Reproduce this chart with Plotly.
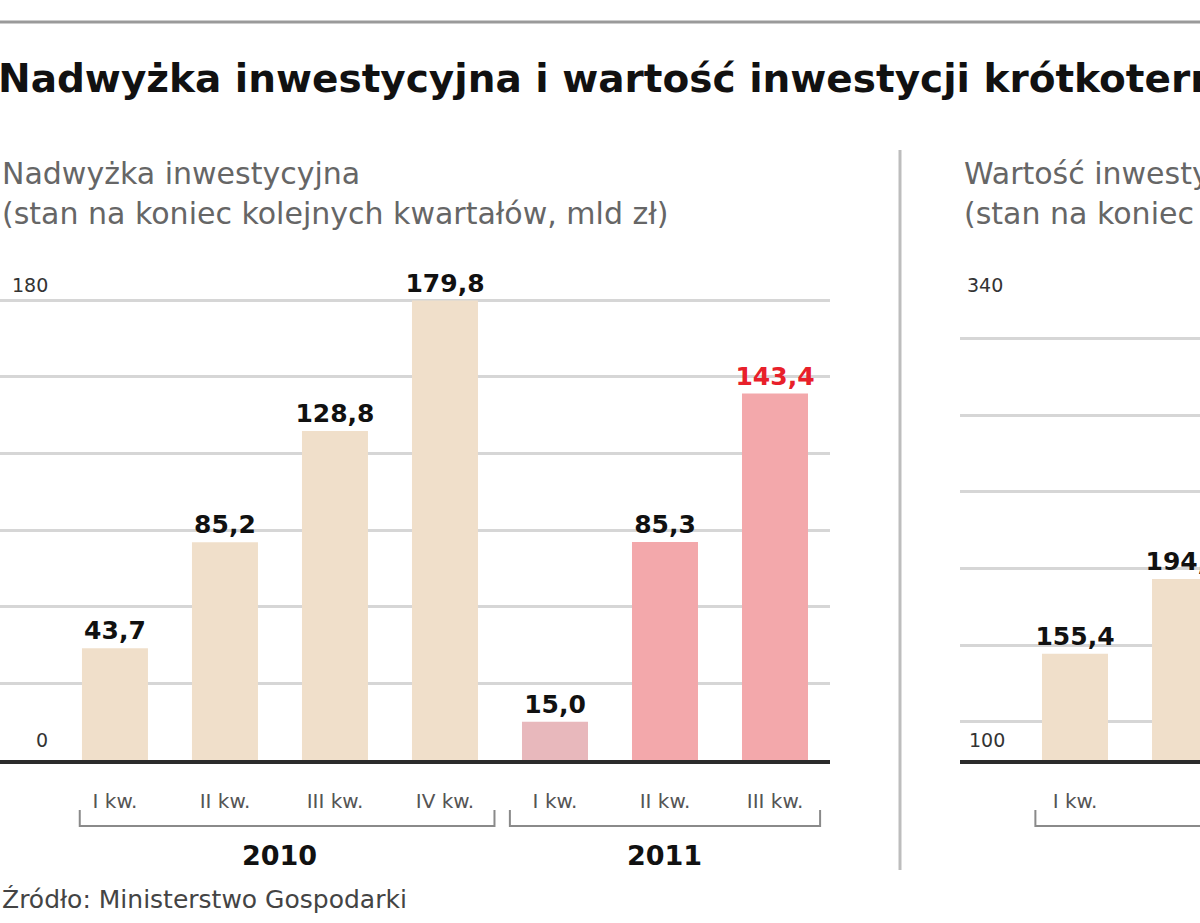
import plotly.graph_objects as go

# nadwyzka inwestycyjna, mld zl (2010 I-IV kw., 2011 I-III kw.)
quarters = ["I kw.", "II kw.", "III kw.", "IV kw.", "I kw.", "II kw.", "III kw."]
surplus = [43.7, 85.2, 128.8, 179.8, 15.0, 85.3, 143.4]
surplus_colors = ["#f0dfca", "#f0dfca", "#f0dfca", "#f0dfca", "#e8b8bc", "#f3a8ab", "#f3a8ab"]
surplus_text_colors = ["#111", "#111", "#111", "#111", "#111", "#111", "#e8202a"]

# wartosc inwestycji krotkoterminowych - only first two quarters visible
inv_quarters = ["I kw.", "II kw."]
investments = [155.4, 194.4]

years = ["2010", "2011"]

W, H = 1200, 923
FONT = "DejaVu Sans"


def py(p):
    # pixel row -> paper y
    return 1 - p / H


fig = go.Figure()

fig.add_trace(go.Bar(
    x=list(range(len(surplus))), y=surplus,
    marker=dict(color=surplus_colors, line=dict(width=0)),
    width=0.6,
    texttemplate="%{y:.1f}", textposition="outside",
    textfont=dict(size=25, color=surplus_text_colors, family=FONT, weight="bold"),
    constraintext="none", cliponaxis=False,
    xaxis="x", yaxis="y", showlegend=False, hoverinfo="skip"
))

fig.add_trace(go.Bar(
    x=list(range(len(investments))), y=investments,
    marker=dict(color="#f0dfca", line=dict(width=0)),
    width=0.6,
    texttemplate="%{y:.1f}", textposition="outside",
    textfont=dict(size=25, color="#111", family=FONT, weight="bold"),
    constraintext="none", cliponaxis=False,
    xaxis="x2", yaxis="y2", showlegend=False, hoverinfo="skip"
))

# 2.556 px per unit on both panels, top gridline just inside the plot area
ydom = [py(760), py(297)]
axis_common = dict(showline=True, linecolor="#2b2b2b", linewidth=4, ticks="",
                   tickfont=dict(size=20, color="#555", family=FONT),
                   ticklabelstandoff=20, showgrid=False, zeroline=False)

fig.update_layout(
    width=W, height=H,
    margin=dict(l=0, r=0, t=0, b=0),
    paper_bgcolor="white", plot_bgcolor="white",
    separators=", ",
    font=dict(family=FONT),
    xaxis=dict(domain=[0, 830 / W], range=[-1.045, 6.5],
               tickvals=list(range(len(quarters))), ticktext=quarters, **axis_common),
    yaxis=dict(domain=ydom, range=[0, 181.2], dtick=30, showticklabels=False,
               showgrid=True, gridcolor="#d6d6d6", gridwidth=3, zeroline=False),
    xaxis2=dict(domain=[960 / W, 1], range=[-1.045, 1.136], anchor="y2",
                tickvals=list(range(len(inv_quarters))), ticktext=inv_quarters, **axis_common),
    yaxis2=dict(domain=ydom, range=[100, 341.6], dtick=40, showticklabels=False,
                showgrid=True, gridcolor="#d6d6d6", gridwidth=3, zeroline=False, anchor="x2"),
)

shapes = [
    dict(type="line", xref="paper", yref="paper", x0=0, x1=1, y0=py(22), y1=py(22),
         line=dict(color="#9a9a9a", width=3)),
    dict(type="line", xref="paper", yref="paper", x0=900 / W, x1=900 / W, y0=py(150), y1=py(870),
         line=dict(color="#bdbdbd", width=3)),
]
# year brackets under category labels
brackets = [("x", -0.32, 3.45), ("x", 3.59, 6.41), ("x2", -0.36, 2.5)]
for xr, a, b in brackets:
    shapes.append(dict(type="path", xref=xr, yref="paper",
                       path=f"M {a},{py(810)} L {a},{py(826)} L {b},{py(826)} L {b},{py(810)}",
                       line=dict(color="#8a8a8a", width=2)))
fig.update_layout(shapes=shapes)

ann = []
ann.append(dict(text="<b>Nadwyżka inwestycyjna i wartość inwestycji krótkoterminowych</b>",
                xref="paper", yref="paper", x=-4 / W, y=py(78), xanchor="left", yanchor="middle",
                showarrow=False, font=dict(size=39, color="#111")))
for x0, line1 in [(0, "Nadwyżka inwestycyjna"), (962 / W, "Wartość inwestycji krótkoterminowych")]:
    ann.append(dict(text=line1, xref="paper", yref="paper", x=x0, y=py(173),
                    xanchor="left", yanchor="middle", showarrow=False,
                    font=dict(size=30, color="#666")))
    ann.append(dict(text="(stan na koniec kolejnych kwartałów, mld zł)", xref="paper", yref="paper",
                    x=x0, y=py(214), xanchor="left", yanchor="middle", showarrow=False,
                    font=dict(size=30, color="#666")))
# y axis end labels
ann += [
    dict(text="180", xref="x domain", yref="y", x=0.012, y=180, xanchor="left", yanchor="bottom",
         yshift=2, showarrow=False, font=dict(size=19, color="#333")),
    dict(text="0", xref="x domain", yref="y", x=0.05, y=0, xanchor="center", yanchor="bottom",
         yshift=7, showarrow=False, font=dict(size=19, color="#333")),
    dict(text="340", xref="x2 domain", yref="y2", x=0.02, y=340, xanchor="left", yanchor="bottom",
         yshift=2, showarrow=False, font=dict(size=19, color="#333")),
    dict(text="100", xref="x2 domain", yref="y2", x=0.03, y=100, xanchor="left", yanchor="bottom",
         yshift=7, showarrow=False, font=dict(size=19, color="#333")),
]
# year labels
for xr, xc, yr in [("x", 1.5, years[0]), ("x", 5.0, years[1]), ("x2", 1.5, years[0])]:
    ann.append(dict(text=f"<b>{yr}</b>", xref=xr, yref="paper", x=xc, y=py(855),
                    xanchor="center", yanchor="middle", showarrow=False,
                    font=dict(size=27, color="#111")))
ann.append(dict(text="Źródło: Ministerstwo Gospodarki", xref="paper", yref="paper", x=0, y=py(899),
                xanchor="left", yanchor="middle", showarrow=False,
                font=dict(size=25, color="#444")))
fig.update_layout(annotations=ann)

fig.write_html("out.html", config={"displayModeBar": False},
               post_script="document.body.style.margin='0px';")
